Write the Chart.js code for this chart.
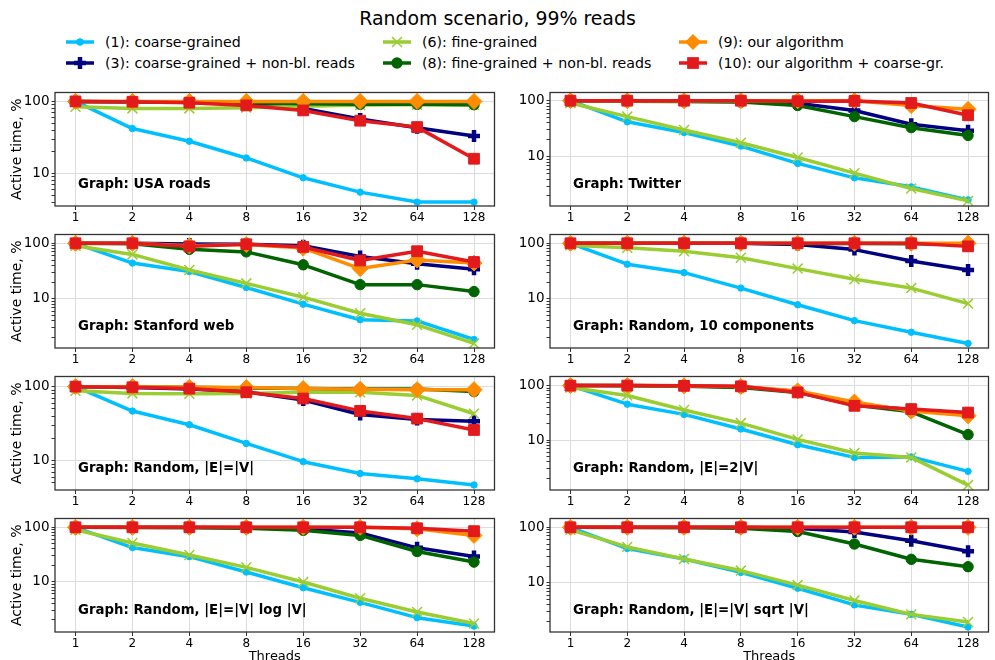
<!DOCTYPE html>
<html><head><meta charset="utf-8">
<script src="https://cdn.jsdelivr.net/npm/chart.js@4.4.0/dist/chart.umd.min.js"></script>
<style>
html,body{margin:0;padding:0;width:995px;height:660px;overflow:hidden;background:#fff;font-family:"DejaVu Sans",sans-serif;color:#000;}
#title{position:absolute;left:0;width:995px;top:6px;text-align:center;font-size:18.9px;line-height:24px;}
.leg{position:absolute;font-size:14.2px;line-height:18px;display:flex;align-items:center;white-space:nowrap;}
.leg svg{margin-right:11px;flex:none;}
.plabel{position:absolute;font-weight:bold;font-size:13.3px;line-height:16px;white-space:nowrap;z-index:5;}
canvas{position:absolute;}
</style></head><body>
<div id="title">Random scenario, 99% reads</div>
<script>
// ---------------- data ----------------
const threads = ['1', '2', '4', '8', '16', '32', '64', '128'];
const seriesLabels = [
  '(1): coarse-grained',
  '(3): coarse-grained + non-bl. reads',
  '(6): fine-grained',
  '(8): fine-grained + non-bl. reads',
  '(9): our algorithm',
  '(10): our algorithm + coarse-gr.'
];
const graphNames = [
  'Graph: USA roads', 'Graph: Twitter',
  'Graph: Stanford web', 'Graph: Random, 10 components',
  'Graph: Random, |E|=|V|', 'Graph: Random, |E|=2|V|',
  'Graph: Random, |E|=|V| log |V|', 'Graph: Random, |E|=|V| sqrt |V|'
];
const yTickLabels = ['10', '100'];

// series order: (1), (3), (6), (8), (9), (10)
const usaRoads = [
  [100, 42, 28, 16.4, 8.7, 5.5, 4.0, 4.0],
  [100, 98, 97, 92, 80, 57, 43, 33],
  [84, 80, 80, 82, 86, 89, 90, 89],
  [100, 99, 98, 96, 93, 91, 91, 90],
  [100, 100, 100, 100, 100, 100, 100, 100],
  [100, 99, 96, 88, 75, 54, 44, 16]
];
const twitter = [
  [100, 42, 27, 15.5, 7.6, 4.2, 2.9, 1.7],
  [100, 99, 98, 97, 90, 67, 38, 29],
  [91, 52, 30, 17.8, 9.7, 5.1, 2.7, 1.63],
  [100, 98, 97, 95, 82, 52, 33, 24],
  [100, 100, 100, 100, 100, 100, 82, 70],
  [100, 100, 100, 100, 98, 99, 91, 55]
];
const stanford = [
  [100, 44, 31, 16, 8.0, 4.2, 4.0, 1.85],
  [100, 100, 97, 96, 90, 58, 43, 34],
  [90, 63, 33, 19, 10.7, 5.5, 3.4, 1.57],
  [100, 98, 78, 70, 41, 18, 18, 13.5],
  [100, 100, 90, 95, 82, 35, 50, 44],
  [100, 100, 88, 96, 86, 49, 72, 46]
];
const random10 = [
  [100, 42, 29.6, 15.6, 7.8, 4.05, 2.5, 1.57],
  [100, 100, 100, 100, 95, 77, 48, 33],
  [92, 83, 72, 55, 35, 22.5, 15.6, 8.2],
  [100, 100, 100, 100, 98, 99, 98, 96],
  [100, 100, 100, 100, 100, 100, 100, 100],
  [100, 100, 100, 100, 100, 100, 100, 88]
];
const randomE1 = [
  [100, 46.8, 30.6, 17.1, 9.7, 6.7, 5.7, 4.7],
  [100, 97, 93, 85, 66, 42, 36, 34],
  [88, 81, 80, 81, 84, 84, 76, 43],
  [100, 99, 98, 96, 94, 93, 93, 86],
  [100, 100, 98, 97, 94, 92, 91, 91],
  [100, 98, 94, 84, 69, 47, 37, 26]
];
const randomE2 = [
  [100, 45.6, 29.6, 16, 8.2, 4.8, 4.9, 2.66],
  [100, 100, 98, 95, 78, 45, 36, 31],
  [92, 66, 35.6, 20.5, 10.3, 5.8, 4.8, 1.49],
  [100, 99, 97, 92, 75, 44, 33, 12.6],
  [100, 100, 99, 96, 80, 50, 34, 28],
  [100, 100, 99, 97, 75, 42.5, 37, 32]
];
const randomLog = [
  [100, 42.5, 28.9, 15.1, 7.8, 4.2, 2.2, 1.54],
  [100, 100, 100, 98, 94, 79, 42, 29],
  [90, 51.6, 31, 18.4, 9.9, 5.0, 2.8, 1.72],
  [100, 99, 98, 96, 88, 71, 36, 23],
  [100, 100, 100, 100, 100, 100, 94, 71],
  [100, 100, 100, 100, 100, 100, 96, 85]
];
const randomSqrt = [
  [100, 41.4, 26.9, 15.4, 8.0, 4.0, 2.7, 1.6],
  [100, 100, 100, 100, 96, 82, 57, 37],
  [90, 44.4, 26.9, 16.6, 9.1, 4.8, 2.7, 1.97],
  [100, 99, 98, 96, 84, 50, 26.5, 19.5],
  [100, 100, 100, 100, 100, 100, 100, 100],
  [100, 100, 100, 100, 100, 100, 100, 100]
];
const panelData = [usaRoads, twitter, stanford, random10, randomE1, randomE2, randomLog, randomSqrt];

// ---------------- style / layout ----------------
const yRanges = [[3.53, 133], [1.32, 140], [1.30, 144], [1.30, 144], [4.02, 137], [1.21, 147], [1.2, 145], [1.30, 144]];
const styles = [
  {color: '#00bfff', ps: 'circle',   r: 3.2, pbw: 1,   bw: 3.5},
  {color: '#000080', ps: 'cross',    r: 6,   pbw: 4.5, bw: 3.5},
  {color: '#9acd32', ps: 'crossRot', r: 7,   pbw: 1.5, bw: 3.5},
  {color: '#006400', ps: 'circle',   r: 5.2, pbw: 1,   bw: 3.5},
  {color: '#ff8c00', ps: 'rectRot',  r: 8,   pbw: 1,   bw: 3.5},
  {color: '#e31a1c', ps: 'rect',     r: 7.6, pbw: 1,   bw: 3.5}
];
const ROW_TOPS = [90, 232, 374, 516];
const PLOT_H = 116;
const PAD = 8;
const FONT = '"DejaVu Sans", sans-serif';

// legend
function markerSVG(s, cx, cy) {
  const c = s.color;
  if (s.ps === 'circle') return `<circle cx="${cx}" cy="${cy}" r="${s.r + 0.5}" fill="${c}"/>`;
  if (s.ps === 'cross') return `<line x1="${cx - s.r}" y1="${cy}" x2="${cx + s.r}" y2="${cy}" stroke="${c}" stroke-width="${s.pbw}"/><line x1="${cx}" y1="${cy - s.r}" x2="${cx}" y2="${cy + s.r}" stroke="${c}" stroke-width="${s.pbw}"/>`;
  if (s.ps === 'crossRot') { const d = s.r * 0.7071; return `<line x1="${cx - d}" y1="${cy - d}" x2="${cx + d}" y2="${cy + d}" stroke="${c}" stroke-width="${s.pbw}"/><line x1="${cx - d}" y1="${cy + d}" x2="${cx + d}" y2="${cy - d}" stroke="${c}" stroke-width="${s.pbw}"/>`; }
  if (s.ps === 'rectRot') return `<polygon points="${cx - s.r},${cy} ${cx},${cy - s.r} ${cx + s.r},${cy} ${cx},${cy + s.r}" fill="${c}"/>`;
  const h = s.r * 0.7071 + 0.5;
  return `<rect x="${cx - h}" y="${cy - h}" width="${2 * h}" height="${2 * h}" fill="${c}"/>`;
}
const legCols = [66, 383, 679];
const legRows = [42, 63];
const legOrder = [[0, 1], [2, 3], [4, 5]];
legOrder.forEach((pair, ci) => pair.forEach((k, ri) => {
  const s = styles[k];
  const d = document.createElement('div');
  d.className = 'leg';
  d.style.left = legCols[ci] + 'px';
  d.style.top = (legRows[ri] - 10) + 'px';
  d.innerHTML = `<svg width="28" height="20" viewBox="0 0 28 20"><line x1="0" y1="10" x2="28" y2="10" stroke="${s.color}" stroke-width="${s.bw}"/>${markerSVG(s, 14, 10)}</svg><span>${seriesLabels[k]}</span>`;
  document.body.appendChild(d);
}));

const framePlugin = {
  id: 'frame',
  afterDatasetsDraw(chart) {
    const {ctx, chartArea: a} = chart;
    ctx.save();
    ctx.strokeStyle = '#333';
    ctx.lineWidth = 1.3;
    ctx.strokeRect(a.left, a.top, a.right - a.left, a.bottom - a.top);
    ctx.restore();
  }
};

const yTickVals = [];
[1, 10].forEach(d => { for (let m = 1; m <= 9; m++) yTickVals.push(m * d); });
yTickVals.push(100);

function makeChart(idx) {
  const col = idx % 2, row = Math.floor(idx / 2);
  const isLeft = col === 0, isBottom = row === 3;
  const yW = isLeft ? 55 : 40;
  const plotLeft = isLeft ? 55 : 550, plotRight = isLeft ? 505 : 999;
  const top = ROW_TOPS[row];
  const XH = isBottom ? 32 : 26;
  const cw = plotRight - (plotLeft - yW), ch = PAD + PLOT_H + XH;
  const cv = document.createElement('canvas');
  cv.width = cw; cv.height = ch;
  cv.style.left = (plotLeft - yW) + 'px';
  cv.style.top = (top - PAD) + 'px';
  cv.style.width = cw + 'px'; cv.style.height = ch + 'px';
  document.body.appendChild(cv);

  const datasets = panelData[idx].map((vals, k) => {
    const s = styles[k];
    return {
      label: seriesLabels[k],
      data: vals.map((v, i) => ({x: i, y: v})),
      borderColor: s.color, backgroundColor: s.color,
      borderWidth: s.bw, borderJoinStyle: 'round',
      pointStyle: s.ps, pointRadius: s.r, pointHoverRadius: s.r,
      pointBorderWidth: s.pbw, pointBackgroundColor: s.color, pointBorderColor: s.color,
      tension: 0, order: 6 - k, clip: false
    };
  });

  new Chart(cv, {
    type: 'line',
    data: {datasets},
    plugins: [framePlugin],
    options: {
      responsive: false, animation: false, devicePixelRatio: 1,
      layout: {padding: {top: PAD, left: 0, right: 0, bottom: 0}},
      plugins: {legend: {display: false}, tooltip: {enabled: false}},
      scales: {
        x: {
          type: 'linear', min: -0.36, max: 7.36,
          afterBuildTicks: (sc) => { sc.ticks = threads.map((t, i) => ({value: i})); },
          afterFit: (sc) => { sc.height = XH; sc.paddingLeft = 0; sc.paddingRight = 0; },
          ticks: {callback: (v) => threads[v], autoSkip: false, maxRotation: 0, color: '#000', padding: 1,
                  font: {family: FONT, size: 12}},
          grid: {color: '#dcdcdc', tickColor: '#333', tickLength: 4, lineWidth: 1},
          border: {display: false},
          title: {display: isBottom, text: 'Threads', color: '#000', padding: 0,
                  font: {family: FONT, size: 13, lineHeight: 1.2}}
        },
        y: {
          type: 'logarithmic', min: yRanges[idx][0], max: yRanges[idx][1],
          afterBuildTicks: (sc) => {
            sc.ticks = yTickVals.filter(v => v >= sc.min && v <= sc.max).map(v => ({value: v}));
          },
          afterFit: (sc) => { sc.width = yW; sc.paddingTop = 0; sc.paddingBottom = 0; },
          ticks: {callback: (v) => yTickLabels.includes(String(v)) ? String(v) : '', autoSkip: false,
                  color: '#000', padding: 2, font: {family: FONT, size: 13.5}},
          grid: {
            color: (c) => (c.tick && yTickLabels.includes(String(c.tick.value))) ? '#dcdcdc' : 'rgba(0,0,0,0)',
            tickColor: '#333', tickLength: 3.5, lineWidth: 1
          },
          border: {display: false},
          title: {display: isLeft, text: 'Active time, %', color: '#000', padding: {top: 9, bottom: 0},
                  font: {family: FONT, size: 14, lineHeight: 1.2}}
        }
      }
    }
  });

  const lab = document.createElement('div');
  lab.className = 'plabel';
  lab.textContent = graphNames[idx];
  lab.style.left = (plotLeft + 23) + 'px';
  lab.style.top = (top + PLOT_H - 22 - 8) + 'px';
  document.body.appendChild(lab);
}
for (let i = 0; i < 8; i++) makeChart(i);
</script>
</body></html>
